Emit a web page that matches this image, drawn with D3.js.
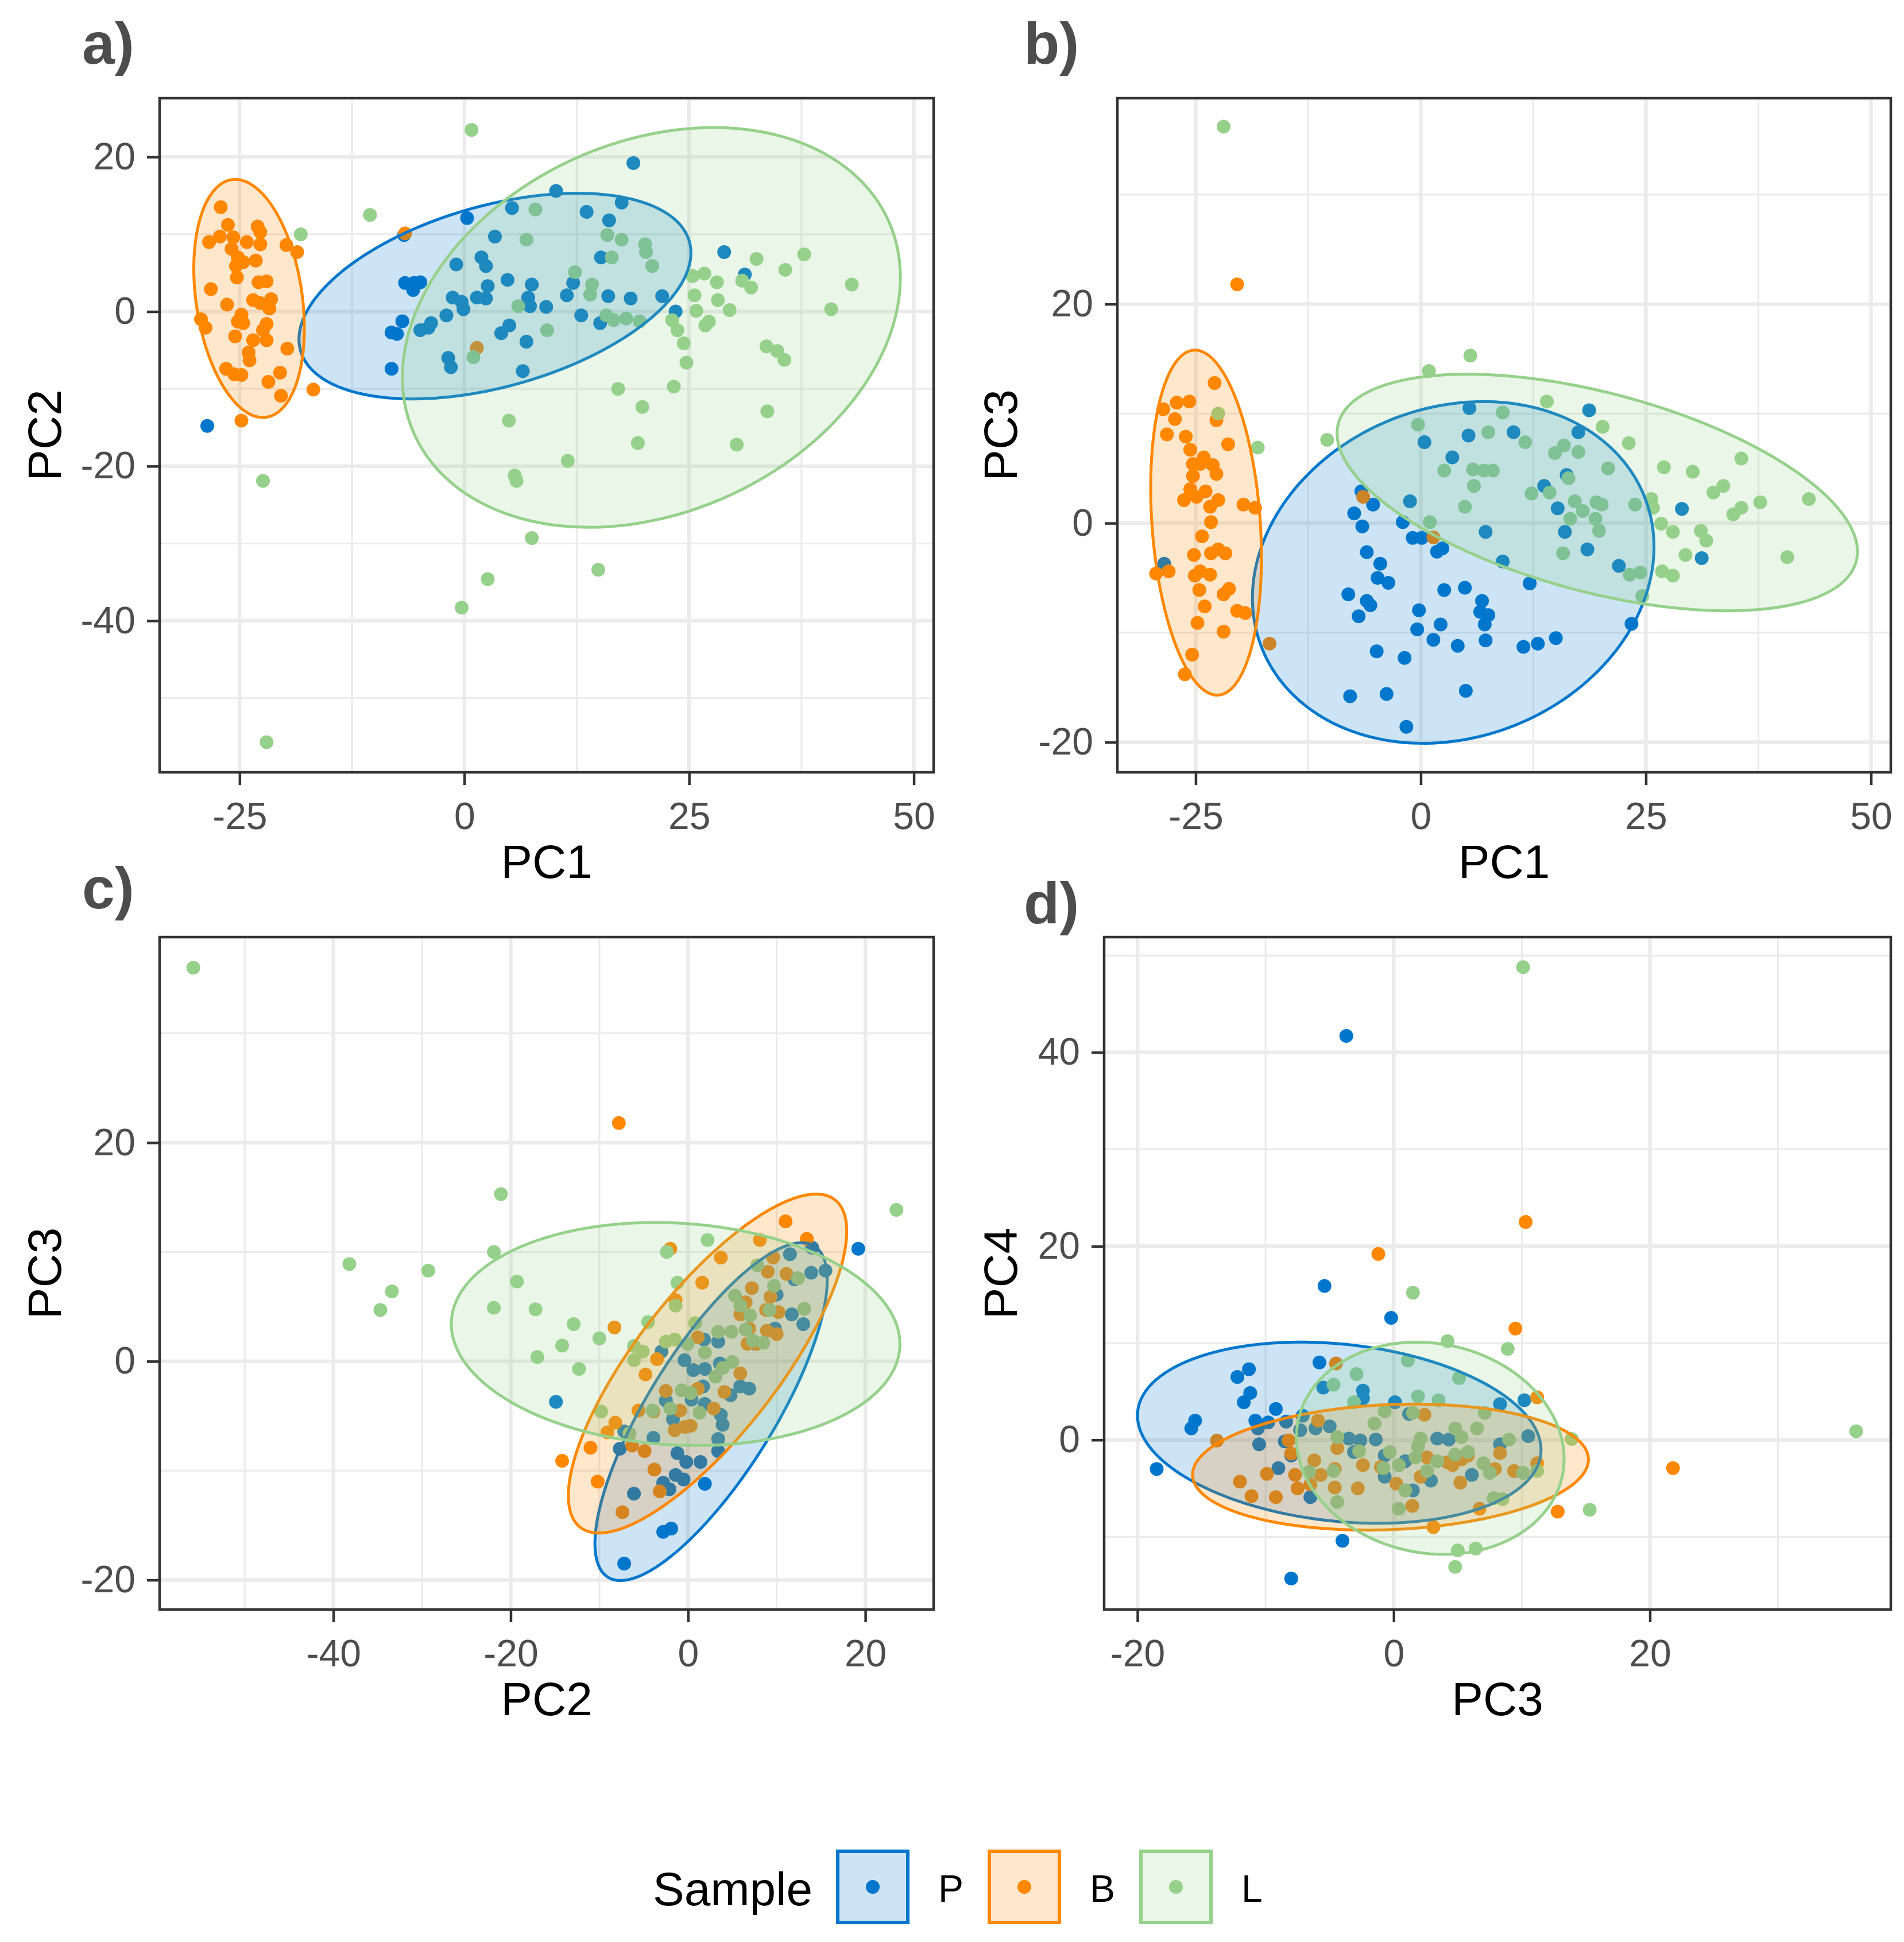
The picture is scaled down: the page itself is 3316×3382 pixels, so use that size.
<!DOCTYPE html>
<html><head><meta charset="utf-8">
<script src="https://cdn.jsdelivr.net/npm/d3@7/dist/d3.min.js"></script>
<style>html,body{margin:0;padding:0;background:#fff;}</style>
</head><body>
<svg id="chart" width="3316" height="3382"></svg>
<script>
// ---------- DATA ----------
const groups = ["P", "B", "L"];
const legendTitle = "Sample";

// Panel a: PC1 vs PC2
const aP = [[-28.6,-14.8],[-6.7,9.9],[0.3,12.1],[5.3,13.4],[10.2,15.6],[13.6,12.9],[16.1,11.8],[17.5,14.1],[18.8,19.2],[3.4,9.7],[1.9,7.0],[2.4,5.9],[-0.9,6.1],[-6.6,3.7],[-5.6,3.7],[-4.9,3.8],[-5.7,2.8],[-1.3,1.8],[-0.3,1.25],[-0.1,0.3],[1.4,1.8],[2.4,1.7],[2.6,3.3],[4.8,4.1],[7.5,3.5],[7.1,1.8],[7.3,0.7],[9.1,0.6],[11.4,2.1],[12.1,3.7],[15.2,7.0],[16.0,2.0],[18.5,1.7],[22.0,2.0],[23.5,0.0],[28.9,7.7],[31.2,4.8],[13.0,-0.5],[15.1,-1.5],[-2.0,-0.5],[-3.7,-1.5],[-4.0,-2.1],[-4.9,-2.4],[-6.9,-1.25],[-8.1,-2.7],[-7.5,-2.9],[5.0,-1.8],[4.1,-2.8],[6.9,-3.9],[-1.8,-6.0],[-1.5,-7.2],[-8.1,-7.4],[6.5,-7.7]];
const aB = [[-27.1,13.5],[-26.3,11.2],[-28.4,9.0],[-27.2,9.7],[-25.7,9.6],[-23.0,11.0],[-22.7,10.3],[-24.2,9.0],[-22.7,8.7],[-19.8,8.6],[-18.6,7.7],[-25.9,8.1],[-25.2,7.0],[-24.6,6.4],[-23.2,6.6],[-25.4,5.9],[-25.3,4.4],[-28.2,2.9],[-22.9,3.8],[-22.0,3.9],[-23.5,1.5],[-22.7,1.1],[-21.5,1.6],[-21.7,0.4],[-26.4,0.9],[-24.8,-0.4],[-25.2,-1.3],[-24.6,-1.5],[-29.3,-1.0],[-28.8,-2.1],[-22.0,-1.6],[-22.4,-2.4],[-25.5,-3.2],[-23.5,-3.7],[-22.0,-3.7],[-19.7,-4.8],[-24.0,-5.3],[-23.9,-6.3],[-26.5,-7.4],[-25.6,-8.1],[-24.8,-8.2],[-20.5,-7.9],[-21.8,-9.1],[-20.4,-10.9],[-16.8,-10.1],[-24.8,-14.1],[-6.6,10.1],[1.4,-4.7]];
const aL = [[0.8,23.5],[-10.5,12.5],[-18.2,10.0],[7.9,13.2],[6.9,9.3],[15.9,9.9],[17.5,9.3],[16.4,7.0],[20.1,8.7],[20.2,7.7],[20.9,5.9],[12.3,5.1],[14.2,3.5],[14.0,2.2],[6.0,0.7],[9.2,-2.4],[1.0,-5.9],[15.8,-0.5],[16.6,-1.1],[18.0,-0.9],[19.5,-1.25],[23.1,-1.1],[23.7,-2.4],[24.4,-4.1],[24.7,-6.6],[25.4,4.6],[26.7,4.9],[28.1,3.8],[25.6,2.1],[25.8,0.1],[28.2,1.5],[29.5,0.2],[27.2,-1.3],[26.8,-1.8],[30.9,4.0],[31.9,3.1],[32.5,6.8],[35.7,5.4],[37.8,7.4],[43.1,3.5],[40.8,0.3],[33.6,-4.5],[34.8,-5.1],[35.6,-6.25],[17.1,-10.0],[23.3,-9.7],[19.8,-12.35],[33.7,-12.9],[19.3,-17.0],[30.3,-17.2],[4.95,-14.1],[11.5,-19.3],[5.6,-21.2],[5.8,-21.9],[-22.4,-21.9],[7.5,-29.3],[2.6,-34.6],[14.9,-33.4],[-0.3,-38.3],[-22.0,-55.7]];

// Panel b: PC1 vs PC3
const bP = [[-28.5,-3.7],[-6.6,2.9],[-5.3,1.7],[-1.2,2.0],[-7.4,0.9],[-6.5,-0.3],[-2.0,0.1],[-0.9,-1.35],[0.1,-1.35],[0.4,7.4],[3.5,6.0],[5.4,10.5],[5.3,8.0],[10.3,8.3],[18.7,10.3],[17.5,8.3],[16.2,4.4],[13.7,3.4],[15.2,1.35],[29.0,1.3],[16.0,-0.8],[7.2,-0.8],[18.5,-2.4],[31.2,-3.2],[9.1,-3.5],[22.0,-3.9],[-6.0,-2.65],[-4.5,-3.7],[-4.8,-5.0],[-3.6,-5.45],[1.8,-2.6],[2.4,-2.3],[12.1,-5.5],[-8.05,-6.5],[-6.0,-7.1],[-5.6,-7.5],[-6.9,-8.5],[2.6,-6.1],[4.9,-5.9],[6.8,-7.1],[6.6,-8.1],[7.5,-8.4],[7.1,-9.25],[-0.2,-7.95],[-0.4,-9.7],[2.2,-9.25],[1.4,-10.65],[4.1,-11.2],[7.2,-10.7],[11.4,-11.3],[13.0,-11.0],[15.0,-10.5],[23.4,-9.2],[-4.9,-11.7],[-1.8,-12.3],[-7.85,-15.8],[-3.8,-15.6],[5.0,-15.3],[-1.6,-18.6]];
const bB = [[-20.4,21.8],[-22.9,12.8],[-28.6,10.4],[-27.1,11.0],[-25.7,11.1],[-27.3,9.5],[-28.2,8.1],[-26.1,7.9],[-25.6,6.7],[-22.7,9.4],[-21.4,7.2],[-24.1,6.0],[-25.3,5.4],[-24.5,5.4],[-23.1,5.3],[-22.7,4.5],[-25.3,4.3],[-25.6,3.1],[-23.9,2.9],[-24.9,2.4],[-26.3,2.1],[-22.5,2.1],[-23.4,1.5],[-19.7,1.7],[-18.4,1.4],[-23.3,0.1],[-24.3,-1.2],[-25.2,-2.9],[-23.3,-2.75],[-22.5,-2.4],[-21.7,-2.75],[-29.4,-4.6],[-28.0,-4.4],[-25.1,-4.8],[-24.5,-4.4],[-23.4,-4.7],[-24.6,-6.1],[-21.3,-6.0],[-21.9,-6.5],[-24.0,-7.6],[-20.4,-8.0],[-19.5,-8.2],[-24.8,-9.1],[-21.9,-9.9],[-16.8,-11.0],[-25.4,-12.0],[-26.2,-13.8],[-6.4,2.4],[1.4,-1.3]];
const bL = [[-21.9,36.2],[-22.5,10.0],[-18.1,6.9],[-10.4,7.6],[0.9,13.9],[5.5,15.3],[14.0,11.1],[9.1,10.1],[-0.3,9.0],[7.5,8.3],[11.6,7.4],[20.2,8.8],[23.1,7.3],[15.9,7.1],[14.9,6.4],[17.5,6.5],[2.6,4.8],[5.8,4.9],[7.0,4.8],[8.0,4.8],[5.9,3.4],[4.9,1.5],[20.8,5.0],[16.4,4.1],[12.3,2.7],[14.3,2.8],[17.1,2.0],[18.0,1.1],[19.5,1.9],[20.1,1.7],[23.8,1.7],[25.6,2.2],[25.8,1.4],[16.6,0.4],[19.4,0.4],[19.8,-0.7],[1.0,0.1],[26.7,-0.05],[28.0,-0.8],[31.1,-0.7],[31.7,-1.6],[15.8,-2.75],[29.4,-2.9],[27.0,5.1],[30.2,4.7],[32.5,2.8],[33.6,3.4],[35.6,5.9],[34.7,0.8],[35.6,1.4],[37.7,1.9],[43.1,2.2],[40.7,-3.1],[23.2,-4.7],[24.4,-4.5],[26.8,-4.4],[28.0,-4.8],[24.6,-6.65]];

// Panel c: PC2 vs PC3
const cP = [[19.2,10.3],[-14.9,-3.7],[14.0,10.4],[13.9,8.1],[15.5,8.3],[12.0,7.5],[10.0,6.1],[11.7,4.3],[13.0,3.4],[9.8,3.0],[7.6,1.6],[3.4,1.8],[1.8,2.0],[-3.0,0.9],[-0.4,0.1],[0.6,-0.8],[1.9,-0.7],[3.6,-0.2],[1.7,-2.3],[5.9,-2.3],[6.9,-2.5],[4.8,-3.1],[-2.5,-3.6],[0.4,-3.5],[1.9,-3.9],[-1.7,-5.3],[3.7,-4.9],[3.9,-5.8],[3.4,-7.1],[-3.9,-7.0],[-7.2,-6.4],[-7.7,-8.0],[-1.2,-8.4],[-0.2,-9.2],[1.4,-9.2],[3.4,-8.2],[-1.4,-10.4],[-0.5,-10.8],[-2.8,-11.1],[-2.1,-11.7],[1.9,-11.2],[-6.1,-12.1],[-1.9,-15.3],[-2.8,-15.6],[-7.2,-18.5],[11.5,9.8]];
const cB = [[-7.8,21.8],[-14.2,-9.1],[11.0,12.8],[13.4,11.2],[8.1,11.1],[-2.0,10.3],[3.7,9.5],[1.6,7.2],[-1.4,5.6],[9.6,9.5],[9.0,8.2],[11.1,8.0],[7.2,6.7],[6.5,5.4],[9.3,5.9],[8.8,4.7],[10.2,4.5],[5.9,4.3],[-8.3,3.1],[6.9,3.0],[8.9,2.8],[10.0,2.5],[1.1,2.2],[6.7,1.6],[7.7,1.6],[-3.5,0.2],[-4.8,-1.2],[5.9,-1.1],[-2.5,-2.7],[1.1,-2.5],[4.1,-2.8],[-5.6,-4.5],[-0.9,-4.5],[-8.2,-5.6],[-9.1,-6.5],[-3.9,-4.6],[2.9,-4.3],[-1.5,-6.3],[-0.4,-6.0],[0.3,-5.9],[-11.0,-7.9],[-6.3,-7.7],[-4.9,-8.2],[-3.8,-9.9],[-10.2,-11.0],[-3.2,-11.9],[-7.4,-13.8]];
const cL = [[-55.8,36.0],[-21.1,15.3],[-21.9,10.0],[-38.2,8.9],[-29.3,8.3],[-33.4,6.4],[-34.7,4.7],[-19.3,7.3],[-21.9,4.9],[-17.2,4.75],[-12.9,3.4],[-14.2,1.45],[-17.0,0.4],[-12.3,-0.7],[-10.0,2.1],[23.5,13.85],[2.2,11.1],[-2.4,10.0],[-1.2,7.2],[-4.5,3.6],[-1.4,5.1],[7.8,8.8],[12.4,7.6],[9.7,6.9],[5.3,6.0],[5.9,5.1],[13.1,4.8],[7.0,4.2],[9.2,4.7],[0.8,3.5],[3.4,2.7],[4.9,2.7],[6.5,2.9],[7.3,1.9],[8.5,1.7],[-2.5,1.8],[-1.5,2.0],[-0.05,1.6],[-6.1,1.4],[-5.1,0.9],[-6.1,0.1],[1.9,0.8],[5.0,-0.05],[3.9,-0.6],[3.1,-1.4],[-0.7,-2.65],[0.3,-2.9],[-4.0,-4.5],[-2.0,-4.3],[1.3,-4.7],[-9.8,-4.6],[-6.6,-6.6]];

// Panel d: PC3 vs PC4
const dP = [[-3.7,41.7],[-5.4,15.9],[-0.2,12.6],[-5.8,8.0],[-18.5,-3.0],[-4.0,-10.4],[-8.0,-14.3],[-11.3,7.3],[-12.2,6.5],[-11.2,4.85],[-11.7,3.9],[-9.2,3.2],[-15.5,2.0],[-15.8,1.2],[-10.8,2.0],[-9.8,1.8],[-8.4,1.9],[-10.6,1.2],[-7.1,2.5],[-6.1,1.2],[-5.0,1.4],[-7.3,1.0],[-5.5,5.4],[-2.4,5.1],[-2.4,4.3],[0.1,3.9],[1.2,2.7],[8.3,3.7],[10.2,4.1],[-10.5,-0.45],[-8.5,-0.15],[-8.0,-1.6],[-9.0,-2.9],[-6.5,-5.9],[-3.5,0.15],[-2.6,-0.05],[-1.4,0.05],[3.4,0.15],[4.3,0.05],[10.5,0.4],[8.3,-0.45],[-3.1,-1.25],[-0.7,-1.6],[-0.7,-3.8],[0.9,-2.2],[2.9,-4.2],[6.1,-3.6],[1.5,-5.2]];
const dB = [[-1.2,19.2],[10.3,22.5],[9.5,11.5],[21.8,-2.9],[12.8,-7.4],[3.1,-9.0],[-13.8,-0.06],[-4.5,7.9],[11.2,4.4],[-5.9,2.0],[2.4,2.6],[-8.2,-0.05],[-8.0,-1.4],[-6.2,-2.1],[-4.4,-0.85],[-2.4,-2.6],[-12.0,-4.3],[-9.9,-3.5],[-7.7,-3.6],[-5.7,-3.6],[-7.5,-5.0],[-11.1,-5.8],[-9.2,-5.9],[-6.5,-4.6],[-4.6,-4.9],[-2.8,-5.0],[-4.6,-3.0],[-1.0,-2.8],[0.2,-4.5],[1.45,-6.8],[2.6,-1.8],[2.1,-3.8],[4.6,-2.6],[5.3,-2.0],[5.8,-1.6],[5.2,-4.4],[7.9,-3.0],[8.3,-1.35],[9.4,-3.2],[11.2,-2.4],[6.7,-7.1],[4.2,-2.3]];
const dL = [[10.1,48.8],[1.5,15.2],[4.2,10.2],[8.9,9.4],[36.1,0.9],[15.3,-7.2],[13.9,0.1],[5.0,-11.4],[6.4,-11.2],[4.8,-13.1],[1.1,8.2],[-2.9,6.8],[-4.7,5.7],[5.1,6.4],[1.9,4.5],[3.5,4.1],[-3.1,3.9],[-0.7,2.95],[1.5,2.8],[7.1,2.8],[-1.5,1.7],[6.5,1.2],[4.8,1.2],[5.3,0.3],[9.0,0.05],[-4.4,0.3],[2.1,0.15],[1.9,-0.65],[-2.7,-1.15],[-0.3,-1.25],[-0.8,-2.9],[0.4,-2.6],[1.7,-1.8],[3.4,-2.2],[4.8,-1.5],[5.8,-1.25],[7.0,-2.4],[7.5,-3.4],[10.1,-3.4],[11.2,-3.2],[-6.6,-3.3],[-4.7,-3.2],[0.9,-5.2],[-4.4,-6.4],[0.4,-7.1],[2.6,-3.2],[7.8,-6.0],[8.5,-6.1]];

// 95% ellipses per group: [group, centre x, centre y, half-range x, half-range y, correlation]
const ellipseA = [["P",3.4,2.0,21.8,13.3,0.42],["B",-23.95,1.7,6.15,15.4,-0.25],["L",20.8,-2.05,27.7,25.85,0.25]];
const ellipseB = [["P",3.6,-4.5,22.3,15.6,0.15],["B",-23.85,0.05,6.15,15.75,-0.2],["L",19.6,2.8,28.9,10.8,-0.5]];
const ellipseC = [["P",2.6,-4.6,13.1,15.45,0.78],["B",2.2,-0.2,15.7,15.5,0.78],["L",-1.4,2.5,25.3,10.2,-0.09]];
const ellipseD = [["P",-4.25,0.75,15.75,9.35,-0.19],["B",-0.25,-2.8,15.45,6.5,0.12],["L",2.85,-0.85,10.45,10.95,-0.1]];

// Axis tick values
const ticksPC1 = [-25, 0, 25, 50];
const ticksPC2a = [-40, -20, 0, 20];
const ticksPC3 = [-20, 0, 20];
const ticksPC2c = [-40, -20, 0, 20];
const ticksPC3d = [-20, 0, 20];
const ticksPC4 = [0, 20, 40];

// ---------- STYLE / LAYOUT ----------
const colors = {P: "#0077CC", B: "#FF8800", L: "#96D18B"};
const FONT = "'Liberation Sans', Arial, Helvetica, sans-serif";
const svg = d3.select("#chart");
svg.append("rect").attr("width", 3316).attr("height", 3382).attr("fill", "#fff");

const panels = [
  {tag: "a)", tagX: 143, tagY: 111, box: [278, 171, 1626, 1345], xd: [-33.9, 52.2], yd: [-59.6, 27.6],
   xt: ticksPC1, xm: [-12.5, 12.5, 37.5], yt: ticksPC2a, ym: [-50, -30, -10, 10],
   xl: "PC1", yl: "PC2", ytX: 106, pts: {P: aP, B: aB, L: aL}, ell: ellipseA},
  {tag: "b)", tagX: 1783, tagY: 111, box: [1946, 171, 3293, 1345], xd: [-33.7, 52.2], yd: [-22.75, 38.8],
   xt: ticksPC1, xm: [-12.5, 12.5, 37.5], yt: ticksPC3, ym: [-10, 10, 30],
   xl: "PC1", yl: "PC3", ytX: 1771, pts: {P: bP, B: bB, L: bL}, ell: ellipseB},
  {tag: "c)", tagX: 143, tagY: 1582, box: [278, 1632, 1626, 2803], xd: [-59.6, 27.7], yd: [-22.7, 38.8],
   xt: ticksPC2c, xm: [-50, -30, -10, 10], yt: ticksPC3, ym: [-10, 10, 30],
   xl: "PC2", yl: "PC3", ytX: 106, pts: {P: cP, B: cB, L: cL}, ell: ellipseC},
  {tag: "d)", tagX: 1783, tagY: 1608, box: [1923, 1632, 3293, 2803], xd: [-22.6, 38.8], yd: [-17.5, 51.9],
   xt: ticksPC3d, xm: [-10, 10, 30], yt: ticksPC4, ym: [-10, 10, 30, 50],
   xl: "PC3", yl: "PC4", ytX: 1771, pts: {P: dP, B: dB, L: dL}, ell: ellipseD}
];

const fmt = d => (d < 0 ? "-" + Math.abs(d) : String(d));

function ellipsePoints(e) {
  const [, cx, cy, ax, ay, rho] = e;
  const s = Math.sqrt(1 - rho * rho);
  return d3.range(0, 361, 2).map(deg => {
    const t = deg * Math.PI / 180;
    return [cx + ax * Math.cos(t), cy + ay * (rho * Math.cos(t) + s * Math.sin(t))];
  });
}

panels.forEach((p, i) => {
  const [x0, y0, x1, y1] = p.box;
  const x = d3.scaleLinear().domain(p.xd).range([x0, x1]);
  const y = d3.scaleLinear().domain(p.yd).range([y1, y0]);
  const g = svg.append("g");
  const clipId = "clip" + i;
  svg.append("clipPath").attr("id", clipId).append("rect")
    .attr("x", x0).attr("y", y0).attr("width", x1 - x0).attr("height", y1 - y0);

  // grid
  const grid = g.append("g").attr("clip-path", `url(#${clipId})`);
  grid.selectAll(".vmin").data(p.xm).join("line")
    .attr("x1", d => x(d)).attr("x2", d => x(d)).attr("y1", y0).attr("y2", y1)
    .attr("stroke", "#EBEBEB").attr("stroke-width", 3.2);
  grid.selectAll(".hmin").data(p.ym).join("line")
    .attr("y1", d => y(d)).attr("y2", d => y(d)).attr("x1", x0).attr("x2", x1)
    .attr("stroke", "#EBEBEB").attr("stroke-width", 3.2);
  grid.selectAll(".vmaj").data(p.xt).join("line")
    .attr("x1", d => x(d)).attr("x2", d => x(d)).attr("y1", y0).attr("y2", y1)
    .attr("stroke", "#EBEBEB").attr("stroke-width", 6.4);
  grid.selectAll(".hmaj").data(p.yt).join("line")
    .attr("y1", d => y(d)).attr("y2", d => y(d)).attr("x1", x0).attr("x2", x1)
    .attr("stroke", "#EBEBEB").attr("stroke-width", 6.4);

  const content = g.append("g").attr("clip-path", `url(#${clipId})`);
  // points
  groups.forEach(k => {
    content.append("g").selectAll("circle").data(p.pts[k]).join("circle")
      .attr("cx", d => x(d[0])).attr("cy", d => y(d[1])).attr("r", 12)
      .attr("fill", colors[k]);
  });
  // ellipses
  const line = d3.line().x(d => x(d[0])).y(d => y(d[1]));
  p.ell.forEach(e => {
    content.append("path").attr("d", line(ellipsePoints(e)) + "Z")
      .attr("fill", colors[e[0]]).attr("fill-opacity", 0.2)
      .attr("stroke", colors[e[0]]).attr("stroke-width", 5);
  });

  // border
  g.append("rect").attr("x", x0).attr("y", y0).attr("width", x1 - x0).attr("height", y1 - y0)
    .attr("fill", "none").attr("stroke", "#333333").attr("stroke-width", 4.5);

  // axes
  const ax = g.append("g").attr("transform", `translate(0,${y1})`)
    .call(d3.axisBottom(x).tickValues(p.xt).tickFormat(fmt).tickSize(22).tickPadding(30));
  const ay = g.append("g").attr("transform", `translate(${x0},0)`)
    .call(d3.axisLeft(y).tickValues(p.yt).tickFormat(fmt).tickSize(22).tickPadding(20));
  [ax, ay].forEach(a => {
    a.select(".domain").remove();
    a.selectAll(".tick line").attr("stroke", "#333333").attr("stroke-width", 4.5);
    a.selectAll(".tick text").attr("fill", "#4D4D4D").style("font-family", FONT).style("font-size", "66px");
  });

  // titles
  g.append("text").attr("x", (x0 + x1) / 2).attr("y", y1 + 184).attr("text-anchor", "middle")
    .style("font-family", FONT).style("font-size", "82px").attr("fill", "#000").text(p.xl);
  g.append("text").attr("transform", `translate(${p.ytX},${(y0 + y1) / 2}) rotate(-90)`)
    .attr("text-anchor", "middle")
    .style("font-family", FONT).style("font-size", "82px").attr("fill", "#000").text(p.yl);
  g.append("text").attr("x", p.tagX).attr("y", p.tagY)
    .style("font-family", FONT).style("font-size", "102px").style("font-weight", "bold")
    .attr("fill", "#4D4D4D").text(p.tag);
});

// legend
const lg = svg.append("g");
lg.append("text").attr("x", 1137).attr("y", 3318)
  .style("font-family", FONT).style("font-size", "82px").attr("fill", "#000").text(legendTitle);
const keyX = d3.scalePoint().domain(groups).range([1456, 1984]);
groups.forEach(k => {
  const kx = keyX(k);
  lg.append("rect").attr("x", kx + 3).attr("y", 3224).attr("width", 122).attr("height", 124)
    .attr("fill", colors[k]).attr("fill-opacity", 0.2).attr("stroke", colors[k]).attr("stroke-width", 6);
  lg.append("circle").attr("cx", kx + 64).attr("cy", 3286).attr("r", 12).attr("fill", colors[k]);
  lg.append("text").attr("x", kx + 178).attr("y", 3312)
    .style("font-family", FONT).style("font-size", "66px").attr("fill", "#000").text(k);
});
</script>
</body></html>
